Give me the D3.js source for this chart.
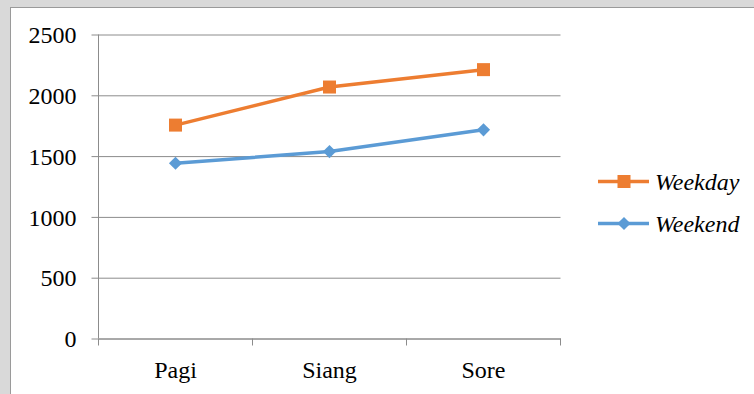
<!DOCTYPE html>
<html><head><meta charset="utf-8">
<script src="https://cdn.jsdelivr.net/npm/d3@7"></script>
</head><body style="margin:0;background:#d9d9d9">
<svg id="c" width="754" height="394" style="display:block;font-family:'Liberation Serif',serif"></svg>
<script>
const categories = ["Pagi", "Siang", "Sore"];
const weekday = [1755, 2068, 2211];
const weekend = [1441, 1537, 1716];
const seriesNames = ["Weekday", "Weekend"];
const yTicks = [0, 500, 1000, 1500, 2000, 2500];

const FONT = '"Liberation Serif"';
const svg = d3.select("#c");
svg.append("rect").attr("x",0).attr("y",0).attr("width",754).attr("height",394).attr("fill","#d9d9d9");
svg.append("rect").attr("x",10.5).attr("y",7.5).attr("width",800).attr("height",400)
  .attr("fill","#fff").attr("stroke","#9a9a9a").attr("stroke-width",1);

const L = 98.5, R = 560.5, T = 34.5, B = 338.5;
const x = d3.scaleBand().domain(categories).range([L, R]).padding(0);
const y = d3.scaleLinear().domain([0, 2500]).range([B, T]);
const gridC = "#8c8c8c";

const txt = sel => sel.style("font-family", FONT).style("font-size", "24px").attr("font-family", null).attr("fill", "#000");

// gridlines + y labels
const yAxis = d3.axisLeft(y).tickValues(yTicks).tickSize(-(R - L)).tickPadding(14).tickFormat(d3.format("d"));
const gy = svg.append("g").attr("transform", `translate(${L},0)`).call(yAxis);
gy.attr("font-family", null).attr("font-size", null);
gy.select(".domain").remove();
gy.selectAll(".tick line").attr("stroke", gridC).attr("x1", -7);
gy.selectAll(".tick text").call(txt).attr("dy","0.34em").attr("x",-22);

// y axis line
svg.append("line").attr("x1",L).attr("x2",L).attr("y1",T).attr("y2",B).attr("stroke",gridC);

// x axis
const xAxis = d3.axisBottom(x).tickSize(0).tickPadding(22);
const gx = svg.append("g").attr("transform", `translate(0,${B})`).call(xAxis);
gx.attr("font-family", null).attr("font-size", null);
gx.select(".domain").attr("stroke", gridC);
gx.selectAll(".tick text").call(txt);
const edges = categories.map(c => x(c)).concat([x(categories[categories.length-1]) + x.bandwidth()]);
svg.append("g").selectAll("line").data(edges).join("line")
  .attr("x1", d => d).attr("x2", d => d).attr("y1", B).attr("y2", B + 7).attr("stroke", gridC);

const cx = c => x(c) + x.bandwidth() / 2;
const line = d3.line().x((d, i) => cx(categories[i])).y(d => y(d));
const colors = ["#ED7D31", "#5B9BD5"];
const data = [weekday, weekend];

data.forEach((s, k) => {
  svg.append("path").datum(s).attr("d", line).attr("fill","none").attr("stroke", colors[k]).attr("stroke-width", 3.5).attr("stroke-linejoin","round");
  const g = svg.append("g");
  s.forEach((v, i) => {
    if (k === 0) {
      g.append("rect").attr("x", cx(categories[i]) - 6.5).attr("y", y(v) - 6.5).attr("width", 13).attr("height", 13).attr("fill", colors[k]);
    } else {
      g.append("path").attr("d", d3.symbol().type(d3.symbolDiamond2).size(110)()).attr("transform", `translate(${cx(categories[i])},${y(v)})`).attr("fill", colors[k]);
    }
  });
});

// legend
const legY = [181.5, 223.5];
seriesNames.forEach((n, k) => {
  const g = svg.append("g");
  g.append("line").attr("x1", 598).attr("x2", 649).attr("y1", legY[k]).attr("y2", legY[k]).attr("stroke", colors[k]).attr("stroke-width", 3.5);
  if (k === 0) g.append("rect").attr("x", 617.5).attr("y", legY[k] - 6.5).attr("width", 13).attr("height", 13).attr("fill", colors[k]);
  else g.append("path").attr("d", d3.symbol().type(d3.symbolDiamond2).size(110)()).attr("transform", `translate(624,${legY[k]})`).attr("fill", colors[k]);
  g.append("text").attr("x", 655).attr("y", legY[k]).attr("dy","0.34em").call(txt).style("font-style","italic").text(n);
});
</script>
</body></html>
